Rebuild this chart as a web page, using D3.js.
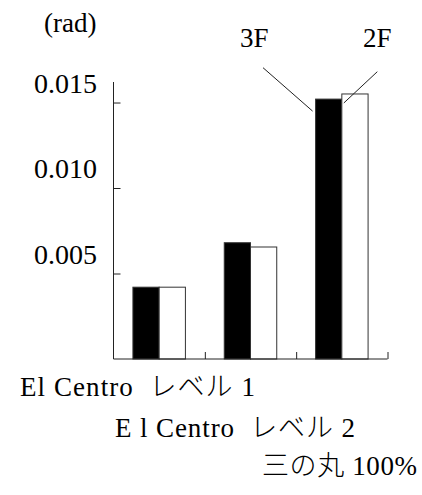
<!DOCTYPE html>
<html>
<head>
<meta charset="utf-8">
<script src="https://cdn.jsdelivr.net/npm/d3@7"></script>
<style>
  html, body { margin: 0; padding: 0; background: #fff; }
  svg { display: block; }
  text { font-family: "Liberation Serif", "Times New Roman", serif; fill: #000; }
  tspan.cjk { font-family: "Noto Sans CJK JP", sans-serif; font-weight: 300; }
  tspan.lat { font-family: "Liberation Serif", "Times New Roman", serif; }
</style>
</head>
<body>
<svg id="chart" width="422" height="495"></svg>
<script>
// ---- data ----
const categories = ["El Centro レベル 1", "E l Centro レベル 2", "三の丸 100%"];
const seriesNames = ["3F", "2F"];
const values3F = [0.0042, 0.0068, 0.0152];
const values2F = [0.0042, 0.00655, 0.0155];
const yTicks = [0.005, 0.010, 0.015];
const yTickLabels = ["0.005", "0.010", "0.015"];
const yUnit = "(rad)";

// ---- layout ----
const x0 = 113.5, x1End = 387.5, yBase = 359, yTop = 82;
const svg = d3.select("#chart");

const x = d3.scaleBand().domain(categories).range([x0, x1End]).padding(0);
const xs = d3.scaleBand().domain(seriesNames).range([0, x.bandwidth()]).paddingOuter(0.74).paddingInner(0);
const y = d3.scaleLinear().domain([0, 0.0162]).range([yBase, yTop]);

const seriesValues = {"3F": values3F, "2F": values2F};
const fills = {"3F": "#000", "2F": "#fff"};

// bars
const data = [];
categories.forEach((c, i) => seriesNames.forEach(s => data.push({c, s, v: seriesValues[s][i]})));
svg.append("g").selectAll("rect").data(data).join("rect")
  .attr("x", d => x(d.c) + xs(d.s))
  .attr("y", d => y(d.v))
  .attr("width", xs.bandwidth())
  .attr("height", d => yBase - y(d.v))
  .attr("fill", d => fills[d.s])
  .attr("stroke", "#333")
  .attr("stroke-width", 1);

// y axis
const yAxis = d3.axisRight(y).tickValues(yTicks).tickSize(7).tickFormat("");
const gy = svg.append("g").attr("transform", `translate(${x0},0)`).call(yAxis);
gy.select(".domain").remove();
gy.selectAll(".tick line").attr("stroke", "#222");
svg.append("line").attr("x1", x0).attr("x2", x0).attr("y1", yTop).attr("y2", yBase).attr("stroke", "#222");

// y tick labels (raised above ticks)
svg.append("g").selectAll("text").data(yTicks).join("text")
  .attr("x", 97).attr("y", d => y(d) - 10)
  .attr("text-anchor", "end").attr("font-size", 28)
  .text((d, i) => yTickLabels[i]);

svg.append("text").attr("x", 44).attr("y", 32).attr("font-size", 27).text(yUnit);

// x axis
const xAxis = d3.axisTop(d3.scaleLinear().domain([0, categories.length]).range([x0, x1End]))
  .tickValues([1, 2, 3]).tickSize(7).tickFormat("");
const gx = svg.append("g").attr("transform", `translate(0,${yBase})`).call(xAxis);
gx.select(".domain").remove();
gx.selectAll(".tick line").attr("stroke", "#222");
svg.append("line").attr("x1", x0).attr("x2", x1End).attr("y1", yBase).attr("y2", yBase).attr("stroke", "#222");

// category labels (staggered), split into latin / CJK runs
function runs(s) {
  const out = [];
  const re = /[\u3000-\u9fff\uff00-\uffef]+/g;
  let last = 0, m;
  while ((m = re.exec(s)) !== null) {
    if (m.index > last) out.push({t: s.slice(last, m.index), cjk: false});
    out.push({t: m[0], cjk: true});
    last = m.index + m[0].length;
  }
  if (last < s.length) out.push({t: s.slice(last), cjk: false});
  return out;
}
const labelPos = [[20, 396, 235], [115, 437, 240], [262, 475, 155]];
const labels = svg.append("g").selectAll("text").data(categories).join("text")
  .attr("x", (d, i) => labelPos[i][0]).attr("y", (d, i) => labelPos[i][1])
  .attr("font-size", 27)
  .attr("textLength", (d, i) => labelPos[i][2]).attr("lengthAdjust", "spacing")
  .style("white-space", "pre");
labels.selectAll("tspan").data(d => runs(d.replace("Centro ", "Centro  "))).join("tspan")
  .attr("class", r => r.cjk ? "cjk" : "lat")
  .text(r => r.t);

// series annotations with leader lines
const last = categories[categories.length - 1];
const b3 = x(last) + xs("3F"), b2 = x(last) + xs("2F");
svg.append("text").attr("x", 240).attr("y", 47).attr("font-size", 27).text("3F");
svg.append("text").attr("x", 363).attr("y", 47).attr("font-size", 27).text("2F");
svg.append("line").attr("x1", 263).attr("y1", 67.7).attr("x2", b3 - 3).attr("y2", y(values3F[2]) + 12).attr("stroke", "#222");
svg.append("line").attr("x1", 377.3).attr("y1", 71.7).attr("x2", b2 + 2).attr("y2", y(values2F[2]) + 9).attr("stroke", "#222");
</script>
</body>
</html>
